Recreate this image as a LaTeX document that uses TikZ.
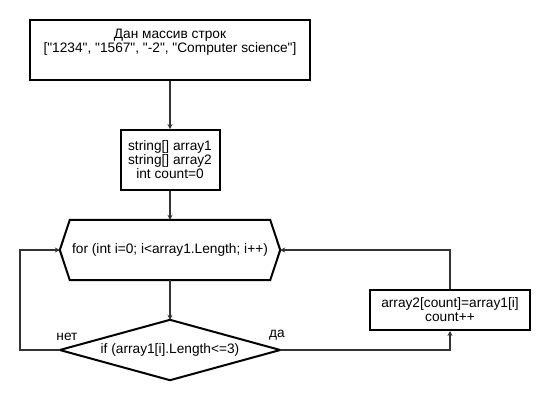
\documentclass[tikz,border=0pt]{standalone}
\usepackage{fontspec}
\setmainfont{Liberation Sans}[Ligatures=TeXOff]
\usetikzlibrary{arrows.meta}
\begin{document}
\begin{tikzpicture}[x=1pt,y=-1pt,
  every node/.style={font=\fontsize{13.7}{14}\selectfont, align=center, inner sep=0pt},
  box/.style={draw=black, line width=2pt, rectangle},
  shapeline/.style={draw=black, line width=2pt, line join=miter},
  conn/.style={draw=black!80, line width=1.5pt, -{Stealth[length=5pt,width=5pt]}},
  lbl/.style={font=\fontsize{13.7}{14}\selectfont}]
\useasboundingbox (0,0) rectangle (550,400);
\fill[white] (0,0) rectangle (550,400);

% box 1
\node[box, minimum width=280pt, minimum height=60pt] (b1) at (170,50) {};
\node (t1) at (170,42) {Дан массив строк\\{[}"1234", "1567", "-2", "Computer science"{]}};

% box 2
\node[box, minimum width=99pt, minimum height=60pt] (b2) at (170,160) {string{[}{]} array1\\string{[}{]} array2\\int count=0};

% hexagon
\node[minimum width=220pt, minimum height=60pt] (hex) at (170,250) {for (int i=0; i<array1.Length; i++)};
\draw[shapeline] (hex.west) -- ([xshift=10pt]hex.north west) -- ([xshift=-10pt]hex.north east)
  -- (hex.east) -- ([xshift=-10pt]hex.south east) -- ([xshift=10pt]hex.south west) -- cycle;

% diamond
\node[minimum width=220pt, minimum height=60pt] (dia) at (170,350) {if (array1[i].Length<=3)};
\draw[shapeline] (dia.west) -- (dia.north) -- (dia.east) -- (dia.south) -- cycle;

% box 3
\node[box, minimum width=160pt, minimum height=40pt] (b3) at (450,310) {array2[count]=array1[i]\\count++};

% corner coordinates
\coordinate (cl1) at (20,350);
\coordinate (cl2) at (20,250);
\coordinate (cr1) at (450,350);
\coordinate (cr2) at (450,250);

% connectors
\draw[conn] (b1.south) -- (b2.north);
\draw[conn] (b2.south) -- (hex.north);
\draw[conn] (hex.south) -- (dia.north);
\draw[conn] (dia.west) -- (cl1) -- (cl2) -- (hex.west);
\draw[conn] (dia.east) -- (cr1) -- (b3.south);
\draw[conn] (b3.north) -- (cr2) -- (hex.east);

% labels
\node[lbl] (no) at (67,337) {нет};
\node[lbl] (yes) at (277,335) {да};
\end{tikzpicture}
\end{document}
